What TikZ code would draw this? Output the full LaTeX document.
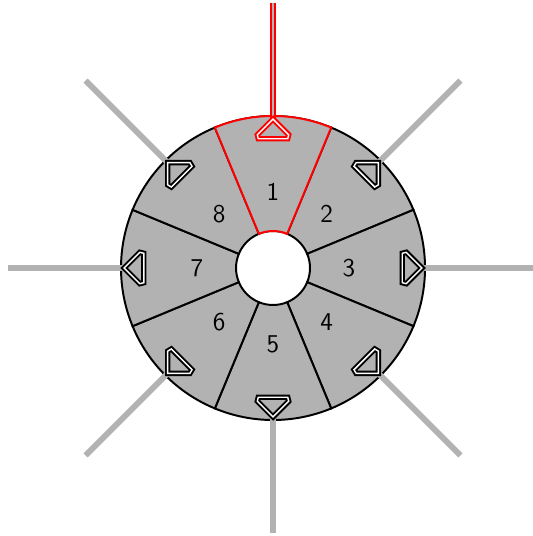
\documentclass[tikz,border=0pt]{standalone}
\usetikzlibrary{calc}

\begin{document}
\begin{tikzpicture}[
  ring/.style={fill=black!30, draw=black, line width=1.1pt},
  sel/.style={draw=red},
  plug/.style={draw=black, double=white, fill=black!30, line width=1.1pt, double distance=0.8pt, line join=miter},
  lead/.style={draw=black!30, line width=3.2pt},
  hot/.style={draw=red, double=black!30, line width=0.8pt, double distance=1.4pt},
  num/.style={font=\sffamily\Large, inner sep=0pt},
]
\path[use as bounding box, fill=white] (-5.388,-5.289) rectangle (5.112,5.289);

% sectors, numbered clockwise from the top
\foreach \i in {1,...,8} {
  \pgfmathsetmacro{\a}{135-45*\i}
  \draw[ring] (\a-22.5:3) arc[start angle=\a-22.5, end angle=\a+22.5, radius=3]
    -- (\a+22.5:0.73) arc[start angle=\a+22.5, end angle=\a-22.5, radius=0.73] -- cycle;
  \coordinate (tip\i) at (\a:2.97);
  \coordinate (end\i) at (\a:5.23);
}
% selected sector
\draw[ring, sel] (67.5:3) arc[start angle=67.5, end angle=112.5, radius=3]
  -- (112.5:0.73) arc[start angle=112.5, end angle=67.5, radius=0.73] -- cycle;

% leads
\foreach \i in {2,...,8} { \draw[lead] (tip\i) -- (end\i); }
\draw[hot] (tip1) -- (end1);

% plugs and numbers
\foreach \i in {1,...,8} {
  \pgfmathsetmacro{\a}{135-45*\i}
  \ifnum\i=1 \def\pc{red}\else \def\pc{black}\fi
  \draw[plug, draw=\pc, rotate=\a] (2.94,0) -- (2.63,0.31) -- (2.55,0.29)
    -- (2.55,-0.29) -- (2.63,-0.31) -- cycle;
  \node[num] (n\i) at (\a:1.5) {\i};
}
\end{tikzpicture}
\end{document}
